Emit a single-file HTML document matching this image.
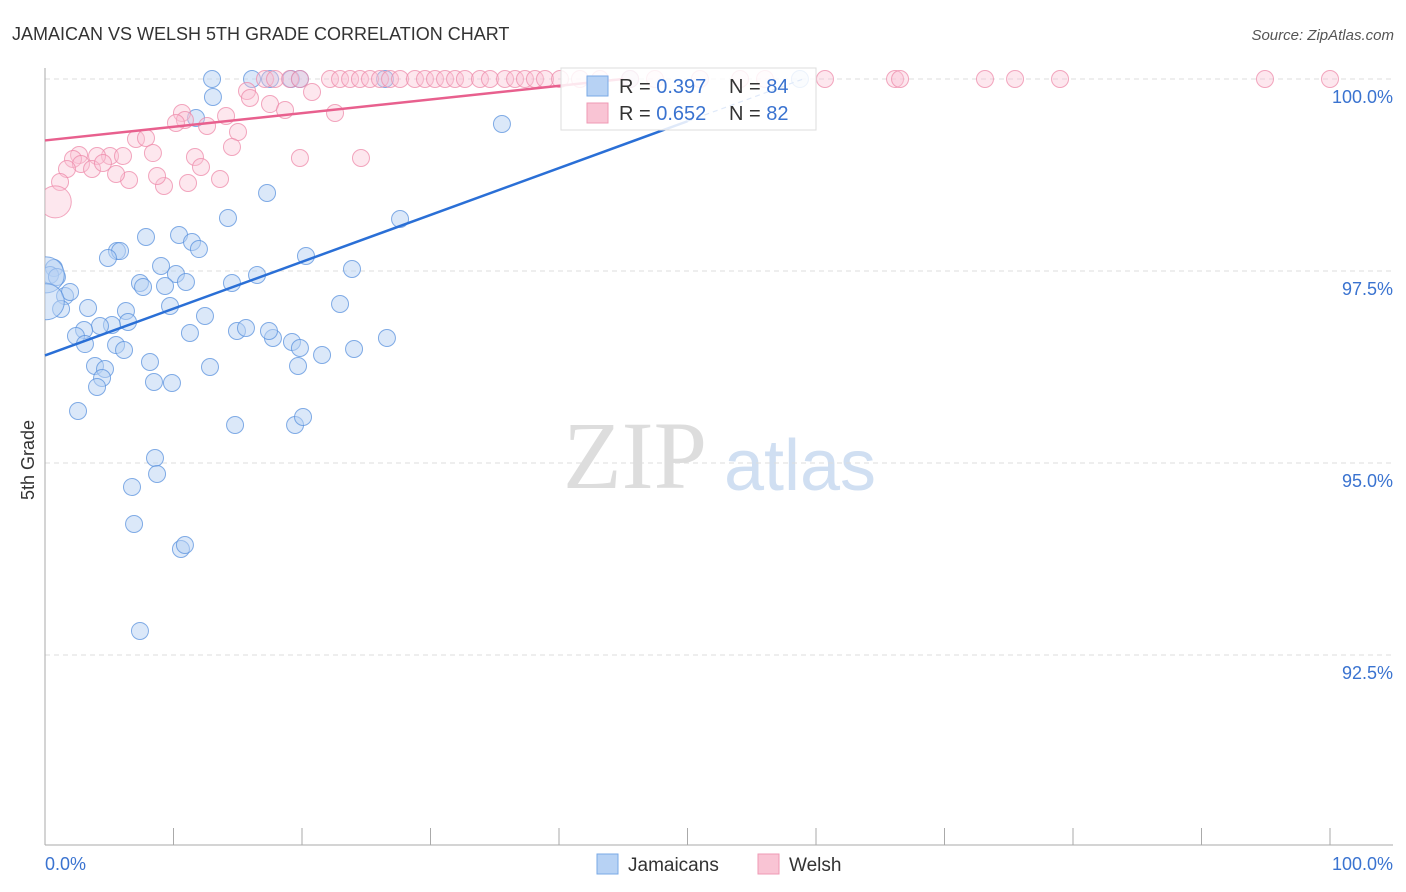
<!DOCTYPE html>
<html><head><meta charset="utf-8"><style>
body{margin:0;background:#fff;font-family:"Liberation Sans",sans-serif}
svg{display:block}
</style></head><body>
<svg width="1406" height="892" id="chart">
<defs><clipPath id="plotclip"><rect x="45" y="55" width="1360" height="790"/></clipPath></defs>
<text x="12" y="40" font-size="18" fill="#333">JAMAICAN VS WELSH 5TH GRADE CORRELATION CHART</text>
<text x="1394" y="40" font-size="15" fill="#555" text-anchor="end" font-style="italic">Source: ZipAtlas.com</text>
<text x="34" y="460" font-size="18" fill="#333" transform="rotate(-90 34 460)" text-anchor="middle">5th Grade</text>
<g><text x="635" y="488" font-size="96" fill="#ddd" font-family="Liberation Serif" text-anchor="middle">ZIP</text><text x="800" y="490" font-size="72" fill="#d0dff2" text-anchor="middle">atlas</text></g>
<g id="grid"></g><g id="axes"></g><g id="pts" clip-path="url(#plotclip)"></g><g id="lines"></g>
<g>
<rect x="561" y="68" width="255" height="62" fill="#fff" fill-opacity="0.85" stroke="#ddd"/>
<rect x="587" y="76" width="21" height="20" fill="#b7d2f4" stroke="#7aa9e6"/>
<rect x="587" y="103" width="21" height="20" fill="#f9c4d4" stroke="#ef9ab4"/>
<text x="619" y="93" font-size="20" fill="#333">R = <tspan fill="#3a73d0">0.397</tspan></text>
<text x="729" y="93" font-size="20" fill="#333">N = <tspan fill="#3a73d0">84</tspan></text>
<text x="619" y="120" font-size="20" fill="#333">R = <tspan fill="#3a73d0">0.652</tspan></text>
<text x="729" y="120" font-size="20" fill="#333">N = <tspan fill="#3a73d0">82</tspan></text>
</g>
<g>
<rect x="597" y="854" width="21" height="20" fill="#b7d2f4" stroke="#7aa9e6"/>
<text x="628" y="871" font-size="19" fill="#333">Jamaicans</text>
<rect x="758" y="854" width="21" height="20" fill="#f9c4d4" stroke="#ef9ab4"/>
<text x="789" y="871" font-size="19" fill="#333">Welsh</text>
</g>
</svg>
<script>
const yTicks=[100,97.5,95,92.5];
const yTickLabels=["100.0%","97.5%","95.0%","92.5%"];
const xTicks=[0,10,20,30,40,50,60,70,80,90,100];
const bluePx=[[212,79],[252,79],[291,79],[385,79],[213,97],[196,118],[502,124],[267,193],[228,218],[400,219],[146,237],[179,235],[192,242],[199,249],[117,251],[120,251],[108,258],[161,266],[176,274],[186,282],[352,269],[306,256],[257,275],[232,283],[140,283],[143,287],[165,286],[54,268],[50,275],[57,277],[65,296],[70,292],[61,309],[88,308],[126,311],[128,322],[170,306],[205,316],[340,304],[112,325],[100,326],[84,330],[76,336],[85,344],[116,345],[124,350],[190,333],[237,331],[246,328],[273,338],[269,331],[292,342],[300,348],[322,355],[354,349],[387,338],[150,362],[95,366],[105,369],[102,378],[97,387],[154,382],[172,383],[210,367],[298,366],[78,411],[235,425],[295,425],[303,417],[155,458],[157,474],[132,487],[134,524],[181,549],[185,545],[140,631],[270,79],[300,79],[630,79],[800,79]];
const pinkPx=[[265,79],[275,79],[290,79],[300,79],[330,79],[340,79],[350,79],[360,79],[370,79],[380,79],[390,79],[400,79],[415,79],[425,79],[435,79],[445,79],[455,79],[465,79],[480,79],[490,79],[505,79],[515,79],[525,79],[535,79],[545,79],[560,79],[580,79],[600,79],[630,79],[655,79],[700,79],[740,79],[765,79],[825,79],[895,79],[900,79],[985,79],[1015,79],[1060,79],[1265,79],[1330,79],[247,91],[250,98],[270,104],[285,110],[312,92],[335,113],[182,113],[185,120],[176,123],[207,126],[226,116],[238,132],[232,147],[136,139],[146,138],[153,153],[195,157],[201,167],[220,179],[188,183],[164,186],[157,176],[300,158],[361,158],[129,180],[116,174],[110,156],[123,156],[97,156],[79,155],[73,159],[81,164],[92,169],[67,169],[60,182],[103,163]];
const toX=p=>+((p-45)/12.85).toFixed(2), toY=p=>+(100-(p-79)/76.8).toFixed(3);
const blueX=bluePx.map(p=>toX(p[0])), blueY=bluePx.map(p=>toY(p[1]));
const pinkX=pinkPx.map(p=>toX(p[0])), pinkY=pinkPx.map(p=>toY(p[1]));
const bigBlue=[[0.1,97.45],[0.1,97.1]], bigPink=[[0.8,98.4]];
const blueLine=[[0,96.4],[50,99.45],[59,100]], pinkLine=[[0,99.2],[45,100]];
const X=v=>45+v*12.85, Y=v=>79+(100-v)*76.8;
const NS="http://www.w3.org/2000/svg";
function el(t,a,p){const e=document.createElementNS(NS,t);for(const k in a)e.setAttribute(k,a[k]);document.getElementById(p).appendChild(e);return e;}
yTicks.forEach((t,i)=>{
 const g=el('line',{x1:45,x2:1393,y1:Y(t),y2:Y(t),stroke:'#ddd','stroke-dasharray':'5,4'},'grid');
 
 
 const l=el('text',{x:1393,y:Y(t)+24,'font-size':18,fill:'#3a73d0','text-anchor':'end'},'axes');l.textContent=yTickLabels[i];
 
 
});
const ax=el('line',{x1:45,x2:45,y1:68,y2:845,stroke:'#aaa'},'axes');


const bx=el('line',{x1:45,x2:1393,y1:845,y2:845,stroke:'#aaa'},'axes');


xTicks.forEach(t=>{const k=el('line',{x1:X(t),x2:X(t),y1:828,y2:845,stroke:'#aaa'},'axes');
 
 });
[["0.0%",45,'start'],["100.0%",1393,'end']].forEach(a=>{const t=el('text',{x:a[1],y:870,'font-size':18,fill:'#3a73d0','text-anchor':a[2]},'axes');t.textContent=a[0];
 
 });
function dot(x,y,r,c,s,n,op){const d=el('circle',{cx:X(x),cy:Y(y),r:r,fill:c,'fill-opacity':op,stroke:s,'stroke-opacity':0.75,'stroke-width':1},'pts');
 
 }
blueX.forEach((x,i)=>dot(x,blueY[i],8.5,'#b7d2f4','#5a91de','jamaican-point',0.5));
bigBlue.forEach(p=>dot(p[0],p[1],18,'#b7d2f4','#5a91de','jamaican-point',0.5));
pinkX.forEach((x,i)=>dot(x,pinkY[i],8.5,'#f9c4d4','#ee8aaa','welsh-point',0.4));
bigPink.forEach(p=>dot(p[0],p[1],16,'#f9c4d4','#ee8aaa','welsh-point',0.4));
function line(L,c,n){const a=el('line',{x1:X(L[0][0]),y1:Y(L[0][1]),x2:X(L[1][0]),y2:Y(L[1][1]),stroke:c,'stroke-width':2.5},'lines');
 
 
 const b=el('line',{x1:X(L[1][0]),y1:Y(L[1][1]),x2:X(L[2]?L[2][0]:L[1][0]),y2:Y(L[2]?L[2][1]:L[1][1]),stroke:c,'stroke-width':1.2,'stroke-dasharray':'5,4'},'lines');
 
 }
line(blueLine,'#2a6fd6','jamaican-trendline');
line(pinkLine,'#e8608e','welsh-trendline');
</script>
</body></html>
